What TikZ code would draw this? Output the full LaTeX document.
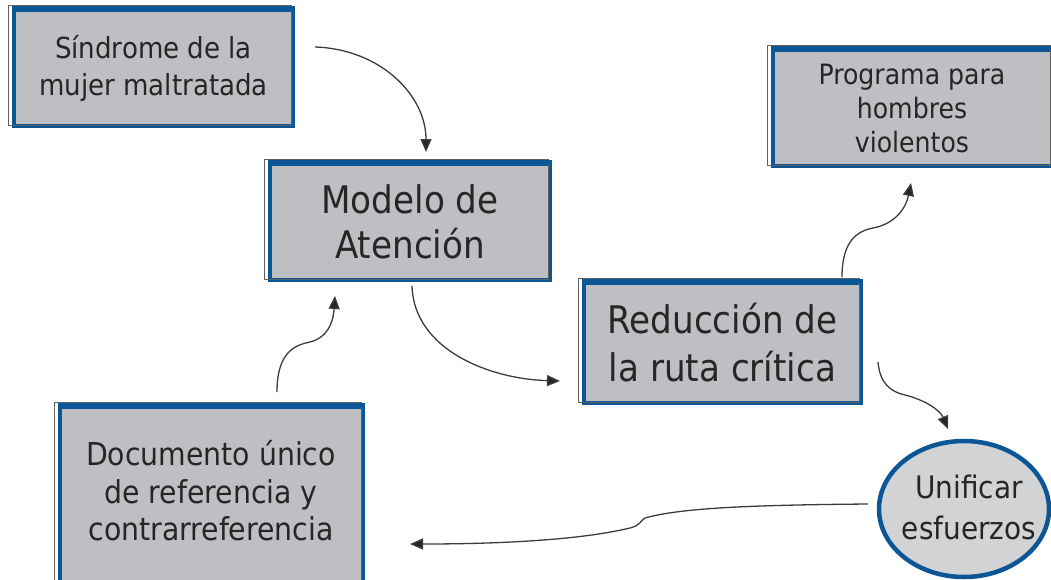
\documentclass[tikz,border=0pt]{standalone}
\usepackage{fontspec}
\setmainfont{DejaVu Sans Condensed}
\usetikzlibrary{arrows.meta,shapes.geometric}
\definecolor{boxblue}{HTML}{0A5696}
\definecolor{boxgray}{HTML}{BEBFC3}
\definecolor{ellgray}{HTML}{D2D3D5}
\definecolor{txt}{HTML}{262626}
\definecolor{arr}{HTML}{3C3C3C}
\begin{document}
\begin{tikzpicture}[x=1pt,y=-1pt,
  box/.style={draw=boxblue,line width=4pt,fill=boxgray,rectangle,inner sep=0pt,text=txt,align=center},
  lbl/.style={text=txt,align=center,inner sep=0pt},
  conn/.style={draw=arr,line width=1.3pt,-{Triangle[length=13pt,width=11pt,fill=black!85]}},
  shade/.style={draw=gray!75!black,line width=0.9pt}]
\useasboundingbox (0,0) rectangle (1051,579);
\clip (0,0) rectangle (1051,579);
% boxes
\node[box,minimum width=279pt,minimum height=116pt,font=\fontsize{29}{37}\selectfont] (sind) at (153.5,68) {Síndrome de la\\mujer maltratada};
\node[box,minimum width=280pt,minimum height=116pt,font=\fontsize{38}{45}\selectfont] (model) at (410,222) {Modelo de\\Atención};
\node[box,minimum width=277pt,minimum height=120pt,font=\fontsize{38}{48}\selectfont] (red) at (722.5,343) {Reducción de\\la ruta crítica};
\node[box,minimum width=279pt,minimum height=116pt,font=\fontsize{28}{34}\selectfont] (prog) at (912,108) {Programa para\\hombres\\violentos};
\node[box,minimum width=303pt,minimum height=193pt] (doc) at (211.5,503.5) {};
\node[lbl,font=\fontsize{31.5}{37.5}\selectfont] (doctext) at (211,491) {Documento único\\de referencia y\\contrarreferencia};
\node[ellipse,draw=boxblue,line width=4.5pt,fill=ellgray,minimum width=170pt,minimum height=136pt,inner sep=0pt] (uni) at (964,509) {};
\node[lbl,font=\fontsize{31}{41}\selectfont] (unitext) at (969,507) {Unificar\\esfuerzos};
% thin offset outlines
\foreach \n in {sind,model,red,prog,doc}{
  \draw[shade] ([shift={(-3.5,-2.5)}]\n.north west) rectangle ([shift={(-3.5,-2.5)}]\n.south east);
  \draw[boxblue,line width=4pt] (\n.north west) -- (\n.north east);
}
% connector end points
\coordinate (a1) at (315,47);   \coordinate (b1) at (426,152);
\coordinate (a2) at (412,286);  \coordinate (b2) at (560,381);
\coordinate (a3) at (277,392);  \coordinate (m3) at (310,342); \coordinate (b3) at (335,296);
\coordinate (a4) at (842,277);  \coordinate (m4) at (873,228); \coordinate (b4) at (911,183);
\coordinate (a5) at (878,362);  \coordinate (m5) at (905,395); \coordinate (b5) at (948,429);
\coordinate (a6) at (868,504);  \coordinate (m6) at (645,518); \coordinate (n6) at (630,528); \coordinate (b6) at (410,544);
% connectors
\draw[conn] (a1) .. controls (380,49) and (426,95) .. (b1);
\draw[conn] (a2) .. controls (414,350) and (490,379) .. (b2);
\draw[conn] (a3) .. controls (277,352) and (295,345) .. (m3) .. controls (326,338) and (333,325) .. (b3);
\draw[conn] (a4) .. controls (842,240) and (858,231) .. (m4) .. controls (895,224) and (906,208) .. (b4);
\draw[conn] (a5) .. controls (880,385) and (892,392) .. (m5) .. controls (925,400) and (940,410) .. (b5);
\draw[conn] (a6) .. controls (750,505) and (680,508) .. (m6) .. controls (640,521) and (641,525) .. (n6) .. controls (580,540) and (500,544) .. (b6);
\end{tikzpicture}
\end{document}
